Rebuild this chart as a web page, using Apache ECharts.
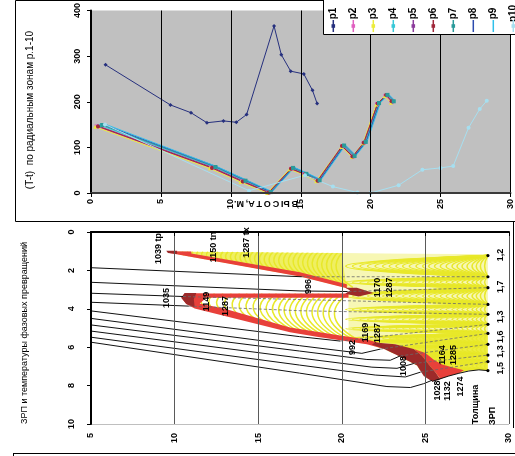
<!DOCTYPE html>
<html>
<head>
<meta charset="utf-8">
<script src="https://cdn.jsdelivr.net/npm/echarts@6/dist/echarts.min.js"></script>
<style>
  html, body { margin: 0; padding: 0; background: #fff; }
  #c { width: 515px; height: 456px; }
</style>
</head>
<body>
<div id="c"></div>
<script>
// ---------- Upper chart: (T-t) per radial zone p1..p10 versus height, m ----------
const zoneNames = ['p1','p2','p3','p4','p5','p6','p7','p8','p9','p10'];
const p1  = [[1.04,281],[5.68,193],[7.15,176],[8.29,154],[9.47,158],[10.39,155],[11.13,172],[13.09,366],[13.61,303],[14.28,267],[15.22,261],[15.84,225],[16.17,196]];
const p2  = [[0.4,146],[8.6,55],[10.8,25],[12.7,1],[14.3,53],[15.25,41],[16.2,27],[17.95,102],[18.7,79],[19.5,110],[20.45,195],[21.05,213],[21.5,199]];
const p3  = [[0.3,145],[8.5,54],[10.7,24],[12.6,0],[14.2,52],[15.2,40],[16.1,26],[17.9,101],[18.65,79],[19.45,109],[20.4,194],[21.0,212],[21.45,198]];
const p4  = [[0.7,148],[8.8,57],[11.0,27],[12.8,2],[14.4,55],[15.35,42],[16.3,28],[18.05,104],[18.8,81],[19.6,112],[20.55,197],[21.15,215],[21.6,201]];
const p5  = [[0.5,147],[8.7,56],[10.9,26],[12.75,1],[14.35,54],[15.3,41],[16.25,27],[18.0,103],[18.75,80],[19.55,111],[20.5,196],[21.1,214],[21.55,200]];
const p6  = [[0.5,146],[8.65,55],[10.85,25],[12.7,1],[14.3,53],[15.3,41],[16.2,27],[17.95,103],[18.7,80],[19.5,110],[20.5,196],[21.1,215],[21.5,201]];
const p7  = [[0.8,149],[8.9,57],[11.05,27],[12.85,2],[14.45,55],[15.4,42],[16.35,28],[18.1,104],[18.85,81],[19.65,112],[20.6,197],[21.2,215],[21.65,201]];
const p8  = [[0.9,150],[8.95,58],[11.1,28],[12.9,2],[14.5,56],[15.45,43],[16.4,29],[18.15,105],[18.9,82],[19.7,113],[20.65,198],[21.25,216],[21.7,202]];
const p9  = [[1.0,151],[9.0,58],[11.15,28],[12.95,3],[14.55,56],[15.5,43],[16.45,29],[18.2,105],[18.95,82],[19.75,113],[20.7,198],[21.3,216],[21.75,202]];
const p10 = [[1.0,150],[11.3,5],[15.3,39],[17.3,14],[19.05,1],[20.0,0],[22.0,17],[23.7,51],[25.0,55],[25.9,59],[27.0,143],[27.8,184],[28.3,202]];
const zoneData = [p1,p2,p3,p4,p5,p6,p7,p8,p9,p10];
const zoneColors  = ['#26307e','#e060c0','#ecec3a','#38c8d8','#8c3c9c','#a0283a','#2a9a9a','#2c4cae','#30c0ea','#a6dff0'];
const zoneSymbols = ['diamond','rect','triangle','circle','diamond','circle','rect','none','none','circle'];

// ---------- Lower chart: phase-transformation zones (ЗРП) and temperatures ----------
// thickness stations on the right edge and their depths
const stationX = 28.74;
const stationY = [1.23,2.33,2.90,3.77,4.29,4.81,5.28,5.85,6.41,6.75,7.22];
const thicknessLabels = ['1,2','1,7','1,3','1,6','1,3','1,5'];
const thicknessLabelY = [1.2,2.85,4.41,5.45,6.23,7.1];

// outline of the coloured (transformation) zone
const zoneOutline = [
  [9.55,1.0],[12,1.02],[20,1.1],[28.74,1.15],
  [28.74,7.22],[28.2,7.17],[27.6,7.22],[27.0,7.36],[26.4,7.5],[25.9,7.65],[25.4,7.78],
  [24.9,7.5],[24.5,6.95],[23.5,6.5],[22.5,6.08],[21.5,5.85],[20.0,5.65],[18.5,5.45],[16.9,5.22],
  [11.2,3.98],[10.7,3.75],[10.4,3.42],[10.6,3.2],[20.2,3.2],[20.5,3.05],[20.2,2.9],
  [17.5,2.32],[9.7,1.1]
];
// edges of the two wedges
const upperWedgeLower = [[9.7,1.1],[17.5,2.32],[20.3,2.93]];
const middleWedgeLower = [[10.7,3.75],[11.2,3.98],[16.9,5.22],[18.5,5.45],[20.0,5.65],[21.5,5.85]];
const upperWedgeTop = 1.02;
const middleWedgeTop = 3.2;
const upperWedgeBody = [[10.2,1.02],[20,1.1],[20.3,2.93],[17.5,2.32],[10.2,1.17]];
const stationBlockBody = [[20,1.1],[28.74,1.15],[28.74,5.28],[26,5.3],[24,5.4],[22.5,5.6],[21.5,5.85],[20.4,5.7],[20.4,3.2],[20.5,3.05],[20.3,2.93]];
// isotherm positions inside the wedges
const upperWedgeIsoX  = [10.5,10.8,11.1,11.4,11.7,12.0,12.3,12.6,12.9,13.2,13.5,13.8,14.1,14.4,14.7,15.0,15.3,15.6,15.9,16.2,16.5,16.8,17.1,17.4,17.7,18.0,18.3,18.6,18.9,19.2,19.5,19.8,20.1];
const middleWedgeIsoX = [11.9,12.4,12.9,13.4,13.9,14.35,14.8,15.25,15.7,16.1,16.5,16.9,17.25,17.6,17.95,18.3,18.65,19.0,19.35,19.7,20.05,20.4];
// isotherm reach (to the left of the stations) between neighbouring stations
const stationIsoReach = [0.2,0.45,0.7,0.95,1.25,1.55,1.85,2.15,2.5,2.85,3.2,3.55,3.9,4.3,4.7,5.1,5.5,5.9,6.3,6.75,7.2,7.65,8.1,8.5];

// red rims along the wedge edges and the lower boundary
const redPatches = [
  [[9.7,1.1],[17.5,2.32],[20.3,2.93],[20.3,2.72],[17.5,2.1],[11.0,1.12],[11.0,1.02],[9.55,1.0]],
  [[10.6,3.2],[20.4,3.2],[20.4,3.42],[11.0,3.42]],
  [[10.4,3.42],[10.6,3.2],[12.0,3.2],[11.8,3.5],[11.5,3.72],[13.0,4.0],[16.9,4.98],[18.5,5.2],[20.0,5.4],[21.5,5.6],[22.5,5.85],[22.5,6.08],[21.5,5.85],[20.0,5.65],[18.5,5.45],[16.9,5.22],[11.2,3.98],[10.7,3.75]],
  [[24.3,6.1],[25.0,6.3],[25.5,6.65],[26.0,6.9],[26.6,7.05],[27.3,7.2],[27.0,7.36],[26.4,7.5],[25.9,7.65],[25.6,7.3],[25.2,6.9],[24.8,6.45]]
];
const darkRedPatches = [
  [[9.5,0.98],[10.15,0.98],[10.15,1.14],[9.6,1.1]],
  [[10.4,3.42],[10.6,3.18],[11.3,3.18],[11.15,3.5],[11.2,3.92],[10.7,3.75]],
  [[20.2,2.9],[20.9,2.9],[21.9,3.18],[21.0,3.36],[20.2,3.22],[20.5,3.05]],
  [[22.0,5.75],[23.2,5.85],[24.3,6.1],[24.8,6.45],[25.2,6.9],[25.6,7.3],[25.9,7.68],[25.4,7.78],[24.9,7.5],[24.5,6.95],[23.5,6.5],[22.5,6.08],[21.8,5.86]]
];
const solidYellowPatch = [[21.5,5.85],[22.5,5.6],[24,5.4],[26,5.3],[28.74,5.28],[28.74,7.22],[27.6,7.22],[27.0,7.36],[26.4,7.5],[25.9,7.65],[25.6,7.3],[25.2,6.9],[24.8,6.45],[24.3,6.1],[23.2,5.85],[22.0,5.75]];

// isolines outside the zone
const isolines = [
  [[5,1.86],[17.6,2.33]],
  [[5,2.62],[17.5,3.07],[20.35,3.1]],
  [[5,3.19],[10.5,3.36]],
  [[5,3.66],[10.85,3.86]],
  [[5,4.11],[17.47,5.45],[19.9,5.68]],
  [[5,4.50],[17.47,5.92],[21.2,6.32],[22.3,6.1]],
  [[5,4.84],[17.47,6.2],[21.5,6.64],[22.9,6.68],[23.5,6.45]],
  [[5,5.16],[17.47,6.56],[21.8,7.04],[23.3,7.1],[24.3,6.85]],
  [[5,5.48],[17.47,6.93],[22.0,7.45],[23.8,7.55],[24.7,7.3]],
  [[5,5.74],[17.47,7.35],[22.7,8.05],[24.1,8.1],[24.9,7.9],[25.4,7.72]],
  [[25.4,7.78],[26.4,7.5],[27.0,7.36],[27.6,7.24],[28.2,7.18],[28.74,7.22]]
];
// isolines continued through the zone to the stations
const isolinesInside = [
  [[17.6,2.33],[28.74,2.33]],
  [[20.4,3.1],[28.74,2.90]],
  [[10.5,3.36],[28.74,3.77]],
  [[10.85,3.86],[17.5,4.1],[28.74,4.29]],
  [[19.9,5.68],[28.74,4.81]],
  [[22.3,6.1],[28.74,5.28]],
  [[23.5,6.45],[28.74,5.85]],
  [[24.3,6.85],[28.74,6.41]],
  [[24.7,7.3],[28.74,6.75]]
];

// temperature annotations, °C
const tempLabels = [
  [9.03,0.86,'1039 tp'],[12.33,0.78,'1150 tn'],[14.33,0.55,'1287 tx'],
  [9.54,3.44,'1035'],[11.93,3.62,'1149'],[13.03,3.85,'1287'],
  [18.02,2.84,'996'],[22.12,2.89,'1170'],[22.87,2.89,'1287'],
  [21.42,5.23,'1169'],[22.12,5.26,'1287'],[20.62,6.02,'992'],
  [23.71,6.98,'1008'],[26.01,6.41,'1164'],[26.71,6.41,'1285'],
  [25.71,8.26,'1028'],[26.31,8.28,'1132'],[27.11,8.05,'1274'],
  [28.0,8.98,'Толщина'],[29.0,9.58,'ЗРП']
];

// ---------- helpers ----------
const FONT = '"Liberation Sans", Arial, sans-serif';
function yAt(path, x) {
  if (x <= path[0][0]) return path[0][1];
  for (let i = 1; i < path.length; i++) {
    if (x <= path[i][0]) {
      const a = path[i-1], b = path[i];
      return a[1] + (b[1]-a[1]) * (x-a[0]) / (b[0]-a[0]);
    }
  }
  return path[path.length-1][1];
}

// isotherm curves: [x0,y0, cx,cy, x2,y2]
const isoCurves = [];
for (let i = 0; i < stationY.length - 1; i++) {
  const yA = stationY[i], yB = stationY[i+1];
  stationIsoReach.forEach(d => isoCurves.push([stationX, yA, stationX - 2*d, (yA+yB)/2, stationX, yB]));
}
upperWedgeIsoX.forEach(x => {
  const yB = yAt(upperWedgeLower, x), h = yB - upperWedgeTop;
  isoCurves.push([x, upperWedgeTop, x - 0.6*h, (upperWedgeTop+yB)/2, x + 0.3*h, yB]);
});
middleWedgeIsoX.forEach(x => {
  const yB = yAt(middleWedgeLower, x), h = yB - middleWedgeTop;
  isoCurves.push([x, middleWedgeTop, x - 0.8*h, (middleWedgeTop+yB)/2, x + 0.3*h, yB]);
});

// white cover around the zone, in two simple pieces
const coverPieces = [
  [[9.55,0],[30,0],[30,7.22]].concat(zoneOutline.slice(0,5).reverse()),
  [[9.55,0],[9.55,1.0]].concat(zoneOutline.slice(4).reverse()).concat([[30,7.22],[30,10],[5,10],[5,0]])
];

const LOW = {xAxisIndex:1, yAxisIndex:1, type:'custom', silent:true, animation:false};

function polygons(list, fill, z) {
  return Object.assign({}, LOW, {z, data: list.map((p,i)=>[p[0][0],p[0][1],i]),
    renderItem: (params, api) => ({type:'polygon',
      shape:{points: list[params.dataIndex].map(q=>api.coord(q))},
      style:{fill, stroke:null}})});
}
function polylines(list, stroke, width, z, dash) {
  return Object.assign({}, LOW, {z, data: list.map((p,i)=>[p[0][0],p[0][1],i]),
    renderItem: (params, api) => ({type:'polyline',
      shape:{points: list[params.dataIndex].map(q=>api.coord(q))},
      style:{stroke, lineWidth:width, fill:null, lineDash: dash || null, lineJoin:'round'}})});
}

const series = [];
zoneData.forEach((d, i) => series.push({
  name: zoneNames[i], type:'line', xAxisIndex:0, yAxisIndex:0, data:d,
  symbol: zoneSymbols[i], symbolSize: 4, showSymbol: zoneSymbols[i] !== 'none',
  lineStyle:{color: zoneColors[i], width:1}, itemStyle:{color: zoneColors[i]},
  animation:false, silent:true, z: 3
}));

series.push(polygons([stationBlockBody], '#f7f7b4', 1));
series.push(polygons([solidYellowPatch], '#ecec3e', 1));
series.push(polygons([upperWedgeBody], '#efef62', 1));
series.push(Object.assign({}, LOW, {z:1, data: isoCurves.map((c,i)=>[c[0],c[1],i]),
  renderItem: (params, api) => {
    const c = isoCurves[params.dataIndex];
    const a = api.coord([c[0],c[1]]), m = api.coord([c[2],c[3]]), b = api.coord([c[4],c[5]]);
    return {type:'bezierCurve', shape:{x1:a[0],y1:a[1],cpx1:m[0],cpy1:m[1],x2:b[0],y2:b[1]},
      style:{stroke:'#e8e82a', lineWidth:1.5, fill:null}};
  }}));
series.push(polygons(coverPieces, '#ffffff', 2));
series.push(polygons(redPatches, '#e8403a', 3));
series.push(polygons(darkRedPatches, '#9c2a2a', 3));
series.push(polylines(isolinesInside, '#6a6a6a', 0.8, 4, [3,2]));
series.push(polylines(isolines, '#111111', 1, 4));
series.push(Object.assign({}, LOW, {z:5, data: stationY.map(y=>[stationX,y]),
  renderItem: (params, api) => {
    const p = api.coord([api.value(0), api.value(1)]);
    return {type:'circle', shape:{cx:p[0], cy:p[1], r:1.6}, style:{fill:'#000'}};
  }}));
series.push(Object.assign({}, LOW, {z:6, data: tempLabels.map((t,i)=>[t[0],t[1],i]),
  renderItem: (params, api) => {
    const t = tempLabels[params.dataIndex];
    const p = api.coord([t[0], t[1]]);
    return {type:'text', x:p[0], y:p[1], rotation:Math.PI/2,
      style:{text:t[2], font:'bold 9px ' + FONT, fill:'#000', align:'center', verticalAlign:'middle'}};
  }}));
series.push(Object.assign({}, LOW, {z:6, data: thicknessLabelY.map((y,i)=>[29.5,y,i]),
  renderItem: (params, api) => {
    const p = api.coord([api.value(0), api.value(1)]);
    return {type:'text', x:p[0], y:p[1], rotation:Math.PI/2,
      style:{text:thicknessLabels[params.dataIndex], font:'bold 9px ' + FONT, fill:'#000', align:'center', verticalAlign:'middle'}};
  }}));

const axisLabelStyle = {rotate:90, fontSize:9, fontWeight:'bold', color:'#000', fontFamily: FONT};

// legend box and entries
const legendElements = [
  {type:'rect', z:20, shape:{x:323.5, y:-1, width:200, height:35.5}, style:{fill:'#fff', stroke:'#000', lineWidth:1}}
];
zoneNames.forEach((n, i) => {
  const cx = 333.3 + 20 * i;
  legendElements.push({type:'text', z:21, x:cx, y:13.5, rotation:Math.PI/2,
    style:{text:n, font:'bold 10px ' + FONT, fill:'#000', align:'center', verticalAlign:'middle'}});
  legendElements.push({type:'line', z:21, shape:{x1:cx, y1:20, x2:cx, y2:32}, style:{stroke:zoneColors[i], lineWidth:1.5}});
  if (zoneSymbols[i] !== 'none') {
    legendElements.push({type:'rect', z:22, shape:{x:cx-1.8, y:24.2, width:3.6, height:3.6}, style:{fill:zoneColors[i]}});
  }
});

const option = {
  backgroundColor: '#ffffff',
  animation: false,
  grid: [
    {left:91, top:7, width:422, height:186, show:true, backgroundColor:'#c0c0c0', borderWidth:0},
    {left:91, top:232, width:418, height:192, show:true, backgroundColor:'#ffffff', borderColor:'#808080', borderWidth:1}
  ],
  xAxis: [
    {gridIndex:0, type:'value', min:0, max:30, interval:5, z:6,
      axisLine:{lineStyle:{color:'#3a3a3a', width:2}},
      axisTick:{length:4, lineStyle:{color:'#000'}},
      axisLabel:Object.assign({margin:6}, axisLabelStyle),
      splitLine:{show:true, lineStyle:{color:'#000', width:1}}},
    {gridIndex:1, type:'value', min:5, max:30, interval:5, z:7,
      axisLine:{lineStyle:{color:'#000', width:2}},
      axisTick:{length:4, lineStyle:{color:'#000'}},
      axisLabel:Object.assign({margin:9}, axisLabelStyle),
      splitLine:{show:true, lineStyle:{color:'#5a5a5a', width:1}}}
  ],
  yAxis: [
    {gridIndex:0, type:'value', min:0, max:400, interval:100, z:6,
      axisLine:{show:true, lineStyle:{color:'#000', width:2}},
      axisTick:{show:true, length:4, lineStyle:{color:'#000'}},
      axisLabel:Object.assign({margin:9}, axisLabelStyle),
      splitLine:{show:false}},
    {gridIndex:1, type:'value', min:0, max:10, interval:2, inverse:true, z:7,
      axisLine:{show:true, lineStyle:{color:'#000', width:2}},
      axisTick:{show:true, length:4, lineStyle:{color:'#000'}},
      axisLabel:Object.assign({margin:15}, axisLabelStyle),
      splitLine:{show:false}}
  ],
  series: series,
  graphic: [
    {type:'rect', z:0, shape:{x:15.5, y:0.5, width:520, height:221}, style:{fill:null, stroke:'#000', lineWidth:1}},
    {type:'line', shape:{x1:13, y1:453.5, x2:515, y2:453.5}, style:{stroke:'#000', lineWidth:1}},
    {type:'line', shape:{x1:13.5, y1:453, x2:13.5, y2:456}, style:{stroke:'#000', lineWidth:1}},
    {type:'line', shape:{x1:513.5, y1:222, x2:513.5, y2:428}, style:{stroke:'#000', lineWidth:1}},
    {type:'text', x:30, y:110, rotation:Math.PI/2,
      style:{text:'(T-t)  по радиальным зонам р.1-10', font:'10px ' + FONT, fill:'#000', align:'center', verticalAlign:'middle'}},
    {type:'text', x:266, y:203, rotation:Math.PI,
      style:{text:'В\u2009Ы\u2009С\u2009О\u2009Т\u2009А,\u2009М.', font:'bold 9px ' + FONT, fill:'#000', align:'center', verticalAlign:'middle'}},
    {type:'text', x:25, y:333, rotation:Math.PI/2,
      style:{text:'ЗРП и температуры фазовых превращений', font:'9px ' + FONT, fill:'#000', align:'center', verticalAlign:'middle'}}
  ].concat(legendElements)
};

const chart = echarts.init(document.getElementById('c'), null, {renderer:'canvas', width:515, height:456});
chart.setOption(option);
</script>
</body>
</html>
